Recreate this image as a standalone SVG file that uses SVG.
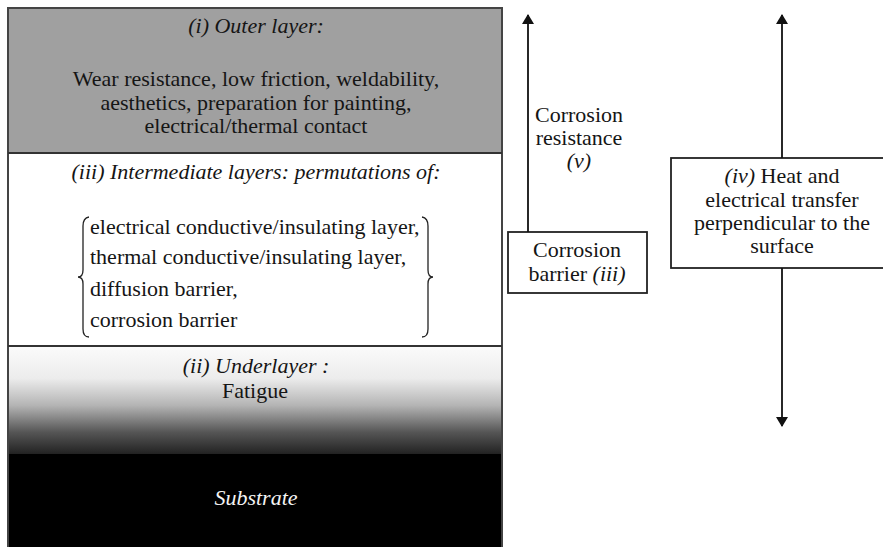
<svg xmlns="http://www.w3.org/2000/svg" width="883" height="547" viewBox="0 0 883 547" font-family="Liberation Serif, serif">
  <defs>
    <linearGradient id="underGrad" x1="0" y1="0" x2="0" y2="1">
      <stop offset="0" stop-color="#fbfbfb"/>
      <stop offset="0.3" stop-color="#ececec"/>
      <stop offset="0.55" stop-color="#b4b4b4"/>
      <stop offset="0.8" stop-color="#555555"/>
      <stop offset="1" stop-color="#222222"/>
    </linearGradient>
    <marker id="head" viewBox="0 0 10 12" refX="9" refY="6" markerWidth="10" markerHeight="12" markerUnits="userSpaceOnUse" orient="auto">
      <path d="M0,0 L10,6 L0,12 Z" fill="#111"/>
    </marker>
    <style>
      text { font-size: 22px; fill: #151515; }
      .c { text-anchor: middle; }
      .i { font-style: italic; }
      .sep { stroke: #333; stroke-width: 2; fill: none; }
      .box { fill: #fff; stroke: #222; stroke-width: 1.8; }
      .brace { fill: none; stroke: #222; stroke-width: 1.3; }
      .conn { stroke: #111; stroke-width: 1.8; fill: none; marker-end: url(#head); }
    </style>
  </defs>

  <rect x="0" y="0" width="883" height="547" fill="#fff"/>

  <!-- layered coating stack -->
  <g id="layer-outer">
    <rect x="8" y="8" width="494" height="145" fill="#a0a0a0"/>
    <text class="c i" x="256" y="33" font-family="Liberation Serif">(i)  Outer layer:</text>
    <text class="c" x="256" y="86" font-family="Liberation Serif">Wear resistance, low friction, weldability,</text>
    <text class="c" x="256" y="110" font-family="Liberation Serif">aesthetics, preparation for painting,</text>
    <text class="c" x="256" y="133" font-family="Liberation Serif">electrical/thermal contact</text>
  </g>

  <g id="layer-intermediate">
    <rect x="8" y="153" width="494" height="193" fill="#fff"/>
    <text class="c i" x="256" y="179" font-family="Liberation Serif">(iii) Intermediate layers: permutations of:</text>
    <path class="brace" d="M89,217 Q83,218 83,226 L83,270 Q83,277 78,277 Q83,277 83,284 L83,329 Q83,337 89,337"/>
    <path class="brace" d="M422,217 Q428,218 428,226 L428,270 Q428,277 433,277 Q428,277 428,284 L428,329 Q428,337 422,337"/>
    <text x="90" y="234" font-family="Liberation Serif">electrical conductive/insulating layer,</text>
    <text x="90" y="264" font-family="Liberation Serif">thermal conductive/insulating layer,</text>
    <text x="90" y="296" font-family="Liberation Serif">diffusion barrier,</text>
    <text x="90" y="327" font-family="Liberation Serif">corrosion barrier</text>
  </g>

  <g id="layer-under">
    <rect x="8" y="346" width="494" height="108" fill="url(#underGrad)"/>
    <text class="c i" x="256" y="373" font-family="Liberation Serif">(ii)  Underlayer :</text>
    <text class="c" x="255" y="398" font-family="Liberation Serif">Fatigue</text>
  </g>

  <g id="layer-substrate">
    <rect x="8" y="454" width="494" height="100" fill="#000"/>
    <text class="c i" x="256" y="505" font-family="Liberation Serif" style="fill:#f4f4f4">Substrate</text>
  </g>

  <!-- stack outline and layer boundaries -->
  <g id="stack-outline">
    <rect class="sep" x="8" y="8" width="494" height="560" style="stroke:#444"/>
    <line class="sep" x1="8" y1="153" x2="502" y2="153"/>
    <line class="sep" x1="8" y1="346" x2="502" y2="346"/>
  </g>

  <g id="label-corrosion-resistance">
    <text class="c" x="579" y="122" font-family="Liberation Serif">Corrosion</text>
    <text class="c" x="579" y="145" font-family="Liberation Serif">resistance</text>
    <text class="c i" x="579" y="168" font-family="Liberation Serif">(v)</text>
  </g>

  <g id="node-corrosion-barrier">
    <rect class="box" x="508" y="232" width="139" height="61"/>
    <text class="c" x="577" y="257" font-family="Liberation Serif">Corrosion</text>
    <text class="c" x="577" y="281" font-family="Liberation Serif">barrier <tspan class="i">(iii)</tspan></text>
  </g>

  <g id="node-heat-transfer">
    <rect class="box" x="671" y="158" width="214" height="110"/>
    <text class="c" x="782" y="183" font-family="Liberation Serif"><tspan class="i">(iv)</tspan> Heat and</text>
    <text class="c" x="782" y="207" font-family="Liberation Serif">electrical transfer</text>
    <text class="c" x="782" y="230" font-family="Liberation Serif">perpendicular to the</text>
    <text class="c" x="782" y="253" font-family="Liberation Serif">surface</text>
  </g>

  <g id="connectors">
    <line class="conn" x1="528" y1="232" x2="528" y2="15"/>
    <line class="conn" x1="782" y1="158" x2="782" y2="15"/>
    <line class="conn" x1="782" y1="268" x2="782" y2="426"/>
  </g>
</svg>
